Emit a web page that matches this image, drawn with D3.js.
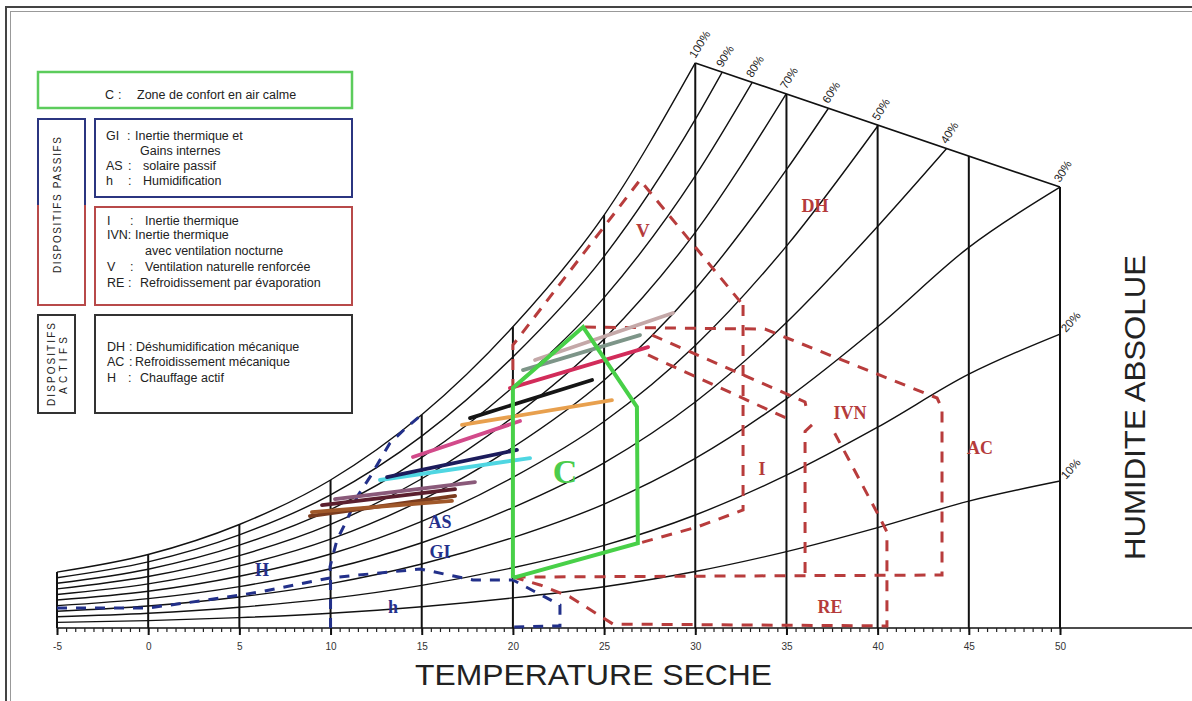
<!DOCTYPE html>
<html>
<head>
<meta charset="utf-8">
<script src="https://cdnjs.cloudflare.com/ajax/libs/d3/7.8.5/d3.min.js"></script>
<style>
  body { margin: 0; background: #fff; }
  svg { display: block; font-family: "Liberation Sans", Arial, sans-serif; }
</style>
</head>
<body>
<div id="chart"></div>
<script>
// chart size
const width = 1192
const height = 701

const temps = [-5, 0, 5, 10, 15, 20, 25, 30, 35, 40, 45, 50]
const satHumidity = [2.7, 3.55, 5.0, 7.15, 10.3, 14.55, 19.95, 27.3, 36.9, 48.5, 61.3, 71]
const rhLevels = [1, 0.9, 0.8, 0.7, 0.6, 0.5, 0.4, 0.3, 0.2, 0.1]
const rhLabels = ['100%', '90%', '80%', '70%', '60%', '50%', '40%', '30%', '20%', '10%']
// straight top boundary from 100% at 30°C to 30% at 50°C
const topLine = [[30, 27.3], [50, 21.3]]

const majorTicks = [-5, 0, 5, 10, 15, 20, 25, 30, 35, 40, 45, 50]
const minorTicks = d3.range(-5, 50.01, 0.5)

// zones (temperature, humidity)
const comfortZone = [[20, 2.42], [20, 11.6], [23.85, 14.54], [26.8, 10.68], [26.85, 4.1], [20, 2.42]]
const redZones = [
  [[20, 11.5], [20, 13.67], [26.97, 21.64], [32.62, 15.6]],                    // V
  [[32.62, 15.6], [32.62, 5.7], [30.1, 4.88], [26.97, 4.11]],                  // I
  [[23.95, 14.54], [33.82, 14.44], [35.03, 14.01], [43.26, 11.11],
   [43.53, 10.6], [43.53, 2.56], [20, 2.46]],                                  // AC
  [[27.63, 14.15], [36.02, 10.92], [36.13, 10.45]],                            // IVN top
  [[27.41, 13.19], [35.35, 10.0]],                                             // I top
  [[36.4, 9.81], [36.02, 9.5], [36.02, 2.66]],                                 // IVN side
  [[20, 2.46], [21.49, 2.08], [23.13, 1.5], [25.49, 0.19], [40.51, 0.1],
   [40.51, 4.64], [40.13, 5.31], [37.55, 9.57]]                                // RE
]
const blueZones = [
  [[-5, 0.97], [0, 0.97], [3.23, 1.35], [6.13, 1.74], [9.97, 2.42], [14.91, 2.85],
   [17.81, 2.32], [20, 2.32], [22.58, 1.11], [22.58, 0.1], [20, 0.05]],         // H / h
  [[10, 0], [10, 2.42], [9.97, 2.95], [10.35, 4.25], [10.9, 5.22], [11.45, 6.33],
   [12.16, 7.29], [13.26, 8.94], [14.19, 9.71], [14.91, 10.24]]                // GI / AS
]

// monthly climate lines
const monthLines = [
  [[8.87, 5.41], [16.83, 6.38]],
  [[8.98, 5.6], [16.66, 6.14]],
  [[9.53, 5.94], [16.83, 6.71]],
  [[10.24, 6.23], [17.92, 7.05]],
  [[12.71, 7.15], [20.94, 8.21]],
  [[13.1, 7.29], [20.22, 8.6]],
  [[14.52, 8.26], [20.39, 10.0]],
  [[17.21, 9.81], [25.43, 11.01]],
  [[17.65, 10.14], [24.34, 11.98]],
  [[19.84, 11.59], [27.41, 13.57]],
  [[20.55, 12.46], [26.97, 14.15]],
  [[21.21, 12.95], [28.78, 15.22]]
]
const monthColors = ['#7a3b1e', '#a0582a', '#5b1f2e', '#8a5a7a', '#4fd6e2', '#1c1c5c',
  '#d24a8a', '#e8a04e', '#151515', '#d22c5a', '#7d9588', '#c4a8a8']

const zoneLabels = [
  {text: 'V', t: 27.13, w: 19.2, color: '#b53b3b', size: 19},
  {text: 'DH', t: 36.57, w: 20.4, color: '#b53b3b', size: 18},
  {text: 'I', t: 33.66, w: 7.7, color: '#b53b3b', size: 18},
  {text: 'IVN', t: 38.49, w: 10.4, color: '#b53b3b', size: 18},
  {text: 'AC', t: 45.61, w: 8.7, color: '#b53b3b', size: 18},
  {text: 'RE', t: 37.39, w: 1.0, color: '#b53b3b', size: 18},
  {text: 'C', t: 22.86, w: 7.54, color: '#4ccc4c', size: 34},
  {text: 'AS', t: 16.0, w: 5.12, color: '#24308c', size: 18},
  {text: 'GI', t: 16.0, w: 3.67, color: '#24308c', size: 18},
  {text: 'H', t: 6.24, w: 2.8, color: '#24308c', size: 18},
  {text: 'h', t: 13.42, w: 1.0, color: '#24308c', size: 18}
]

const x = d3.scaleLinear().domain([-5, 50]).range([57, 1060])
const y = d3.scaleLinear().domain([0, 30]).range([628, 7])
const line = d3.line().x(d => x(d[0])).y(d => y(d[1]))

const chart = d3.select('#chart')
  .append('svg')
  .attr('width', width)
  .attr('height', height)

// saturation humidity between grid points
const satAt = function (t) {
  let i = Math.min(Math.floor((t - temps[0]) / 5), temps.length - 2)
  let f = (t - temps[i]) / 5
  return satHumidity[i] * Math.pow(satHumidity[i + 1] / satHumidity[i], f)
}
const topAt = function (t) {
  let f = (t - topLine[0][0]) / (topLine[1][0] - topLine[0][0])
  return topLine[0][1] + f * (topLine[1][1] - topLine[0][1])
}
// where a RH curve meets the top line (or the 50°C edge)
const curveEnd = function (rh) {
  let g = t => rh * satAt(t) - topAt(t)
  if (g(50) <= 1e-9) return 50
  let lo = 30, hi = 50
  for (let k = 0; k < 40; k++) {
    let m = (lo + hi) / 2
    if (g(m) < 0) lo = m; else hi = m
  }
  return lo
}

const drawFrame = function () {
  chart.append('rect').attr('x', 6).attr('y', 7).attr('width', 1200).attr('height', 720)
    .attr('fill', 'none').attr('stroke', '#444').attr('stroke-width', 2)
  chart.append('rect').attr('x', 10.5).attr('y', 11.5).attr('width', 1200).attr('height', 720)
    .attr('fill', 'none').attr('stroke', '#999').attr('stroke-width', 1)
}

const drawGrid = function () {
  const g = chart.append('g')
  // vertical temperature lines
  g.selectAll('.vline')
    .data(temps)
    .enter().append('line')
    .attr('x1', d => x(d)).attr('x2', d => x(d))
    .attr('y1', y(0))
    .attr('y2', d => y(d <= 30 ? satAt(d) : topAt(d)))
    .attr('stroke', '#111').attr('stroke-width', 2)

  // relative humidity curves
  rhLevels.forEach((rh, i) => {
    let endT = curveEnd(rh)
    let pts = temps.filter(t => t < endT - 0.05).map(t => [t, rh * satHumidity[temps.indexOf(t)]])
    pts.push([endT, rh * satAt(endT)])
    g.append('path')
      .attr('d', line.curve(d3.curveMonotoneX)(pts))
      .attr('fill', 'none').attr('stroke', '#111').attr('stroke-width', 1.4)
    let last = pts[pts.length - 1]
    let low = endT >= 49.9 && rh < 0.25
    g.append('text')
      .attr('transform', 'translate(' + (x(last[0]) + (low ? 6 : 0)) + ',' + (y(last[1]) - (low ? 1 : 4)) + ') rotate(' + (low ? -48 : -58) + ')')
      .attr('font-size', 11.5)
      .attr('fill', '#222')
      .text(rhLabels[i])
  })
  line.curve(d3.curveLinear)

  // top boundary
  g.append('path').attr('d', line(topLine))
    .attr('fill', 'none').attr('stroke', '#111').attr('stroke-width', 1.6)

  // baseline
  g.append('line').attr('x1', x(-5)).attr('x2', width).attr('y1', y(0)).attr('y2', y(0))
    .attr('stroke', '#111').attr('stroke-width', 1.6)
}

const drawAxis = function () {
  const minor = chart.append('g').attr('transform', 'translate(0,' + y(0) + ')')
    .call(d3.axisBottom(x).tickValues(minorTicks).tickSize(4).tickFormat(''))
  minor.select('.domain').remove()
  minor.selectAll('line').attr('stroke', '#222').attr('stroke-width', 1.2)

  const major = chart.append('g').attr('transform', 'translate(0,' + y(0) + ')')
    .call(d3.axisBottom(x).tickValues(majorTicks).tickSize(7).tickPadding(8).tickFormat(d => String(d)))
  major.select('.domain').remove()
  major.selectAll('line').attr('stroke', '#111').attr('stroke-width', 2)
  major.selectAll('text').attr('font-size', 10).attr('fill', '#333')
    .attr('font-family', '"Liberation Sans", Arial, sans-serif')

  chart.append('text')
    .attr('x', 415).attr('y', 685)
    .attr('font-size', 30).attr('fill', '#222')
    .attr('textLength', 357).attr('lengthAdjust', 'spacingAndGlyphs')
    .text('TEMPERATURE SECHE')

  chart.append('text')
    .attr('transform', 'translate(1145,560) rotate(-90)')
    .attr('font-size', 30).attr('fill', '#222')
    .attr('textLength', 305).attr('lengthAdjust', 'spacingAndGlyphs')
    .text('HUMIDITE ABSOLUE')
}

const drawZones = function () {
  const g = chart.append('g')
  g.selectAll('.red')
    .data(redZones)
    .enter().append('path')
    .attr('d', line)
    .attr('fill', 'none')
    .attr('stroke', '#b83c3c')
    .attr('stroke-width', 3)
    .attr('stroke-dasharray', '11,9')

  g.selectAll('.blue')
    .data(blueZones)
    .enter().append('path')
    .attr('d', line)
    .attr('fill', 'none')
    .attr('stroke', '#22308a')
    .attr('stroke-width', 3)
    .attr('stroke-dasharray', '10,9')

  // monthly lines
  g.selectAll('.month')
    .data(monthLines)
    .enter().append('path')
    .attr('d', line)
    .attr('fill', 'none')
    .attr('stroke', (d, i) => monthColors[i])
    .attr('stroke-width', 3.8)
    .attr('stroke-linecap', 'round')

  g.append('path').attr('d', line(comfortZone))
    .attr('fill', 'none').attr('stroke', '#48d048').attr('stroke-width', 4)
    .attr('stroke-linejoin', 'miter')

  g.selectAll('.zlabel')
    .data(zoneLabels)
    .enter().append('text')
    .attr('x', d => x(d.t)).attr('y', d => y(d.w))
    .attr('text-anchor', 'middle')
    .attr('dominant-baseline', 'central')
    .attr('font-family', '"Liberation Serif", "DejaVu Serif", serif')
    .attr('font-weight', 'bold')
    .attr('font-size', d => d.size)
    .attr('fill', d => d.color)
    .text(d => d.text)
}

const drawLegend = function () {
  const g = chart.append('g').attr('font-size', 12.5).attr('fill', '#222')

  const box = (x0, y0, w, h, color, sw) => g.append('rect')
    .attr('x', x0).attr('y', y0).attr('width', w).attr('height', h)
    .attr('fill', 'none').attr('stroke', color).attr('stroke-width', sw)

  box(38, 72, 314, 36, '#5ccc5c', 2.5)
  box(95, 119, 257, 78, '#2b3580', 2)
  box(95, 207, 257, 98, '#b84a4a', 2)
  box(95, 315, 257, 98, '#333', 2)
  box(38, 315, 37, 98, '#333', 2)
  // passive side box, blue on top, red at bottom
  g.append('path').attr('d', 'M38,205 V119 H85 V205').attr('fill', 'none').attr('stroke', '#2b3580').attr('stroke-width', 2)
  g.append('path').attr('d', 'M38,205 V305 H85 V205').attr('fill', 'none').attr('stroke', '#b84a4a').attr('stroke-width', 2)

  const rows = [
    [105, 99, 'C', 118, ':', 137, 'Zone de confort en air calme'],
    [106, 140, 'GI', 127, ':', 135, 'Inertie thermique et'],
    [106, 155, '', 128, '', 140, 'Gains internes'],
    [106, 170, 'AS', 128, ':', 143, 'solaire passif'],
    [106, 185, 'h', 128, ':', 143, 'Humidification'],
    [107, 225, 'I', 130, ':', 145, 'Inertie thermique'],
    [107, 239, 'IVN:', 0, '', 135, 'Inertie thermique'],
    [107, 255, '', 0, '', 145, 'avec ventilation nocturne'],
    [107, 271, 'V', 130, ':', 145, 'Ventilation naturelle renforcée'],
    [107, 287, 'RE', 128, ':', 140, 'Refroidissement par évaporation'],
    [107, 351, 'DH', 129, ':', 136, 'Déshumidification mécanique'],
    [107, 366, 'AC', 129, ':', 135, 'Refroidissement mécanique'],
    [107, 382, 'H', 128, ':', 140, 'Chauffage actif']
  ]
  rows.forEach(r => {
    g.append('text').attr('x', r[0]).attr('y', r[1]).text(r[2])
    if (r[4]) g.append('text').attr('x', r[3]).attr('y', r[1]).text(r[4])
    g.append('text').attr('x', r[5]).attr('y', r[1]).text(r[6])
  })

  g.append('text')
    .attr('transform', 'translate(61,273) rotate(-90)')
    .attr('font-size', 10).attr('textLength', 136).attr('lengthAdjust', 'spacing')
    .text('DISPOSITIFS PASSIFS')
  g.append('text')
    .attr('transform', 'translate(55,406) rotate(-90)')
    .attr('font-size', 10).attr('textLength', 83).attr('lengthAdjust', 'spacing')
    .text('DISPOSITIFS')
  g.append('text')
    .attr('transform', 'translate(67,394) rotate(-90)')
    .attr('font-size', 10).attr('textLength', 57).attr('lengthAdjust', 'spacing')
    .text('ACTIFS')
}

drawFrame()
drawGrid()
drawAxis()
drawZones()
drawLegend()
</script>
</body>
</html>
